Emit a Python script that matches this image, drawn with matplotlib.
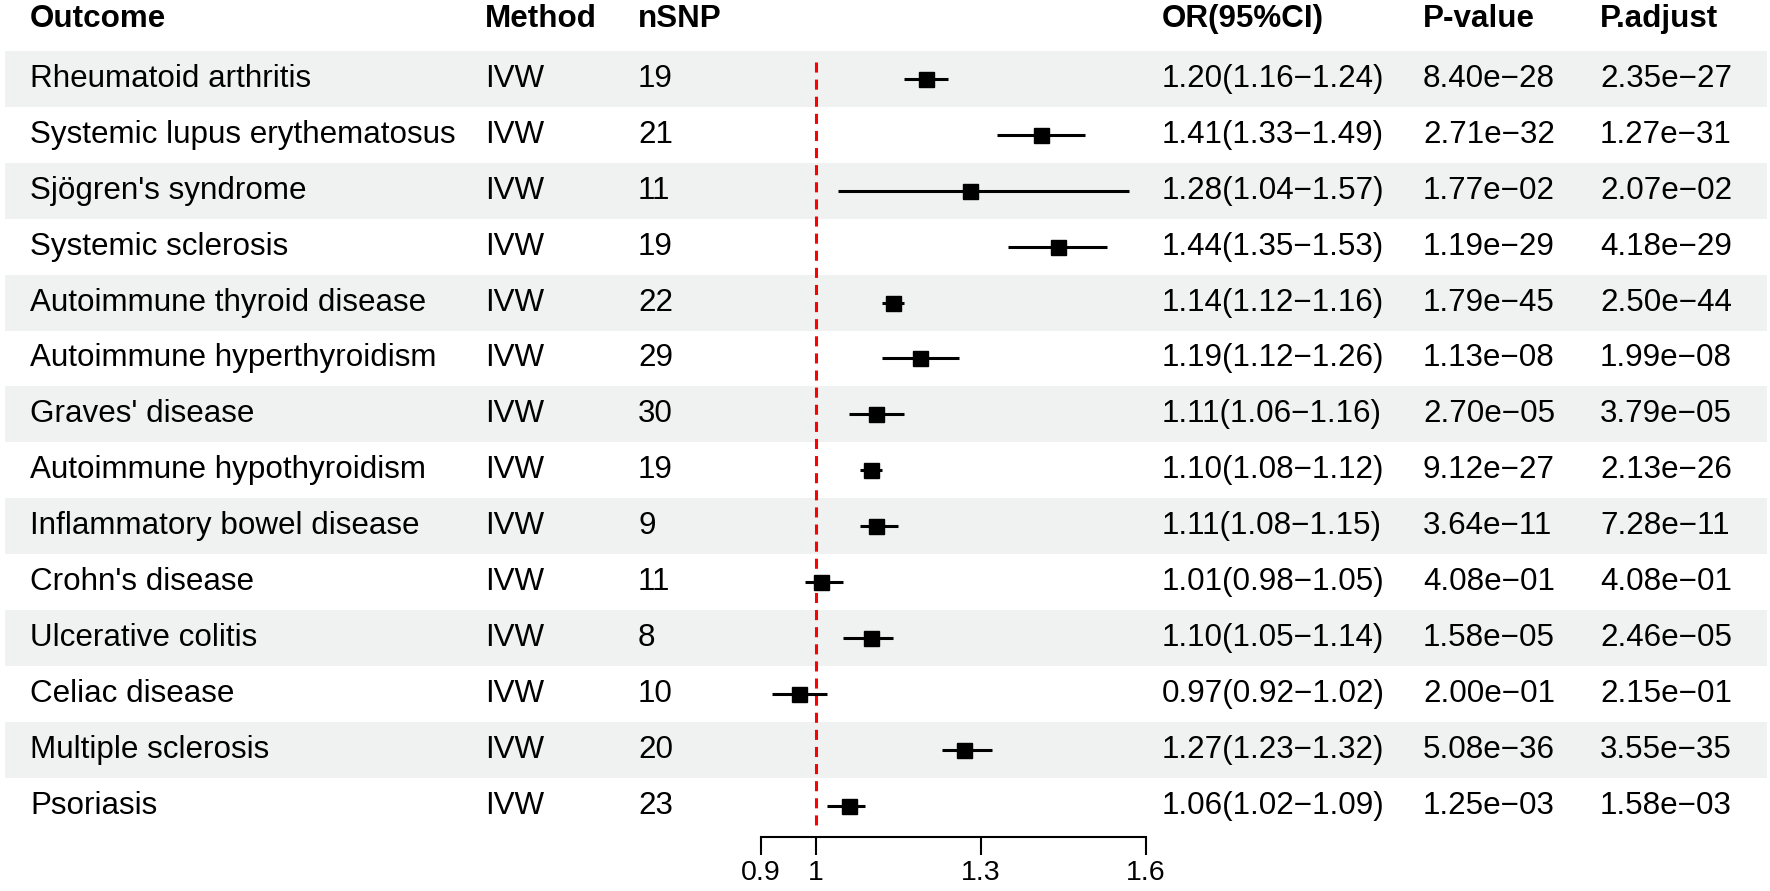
import matplotlib
matplotlib.use("Agg")
import matplotlib.pyplot as plt

plt.rcParams['font.family'] = ['Liberation Sans', 'DejaVu Sans']

outcomes = [
    "Rheumatoid arthritis", "Systemic lupus erythematosus", "Sjögren's syndrome",
    "Systemic sclerosis", "Autoimmune thyroid disease", "Autoimmune hyperthyroidism",
    "Graves' disease", "Autoimmune hypothyroidism", "Inflammatory bowel disease",
    "Crohn's disease", "Ulcerative colitis", "Celiac disease", "Multiple sclerosis",
    "Psoriasis",
]
methods = ["IVW"] * 14
nsnp = [19, 21, 11, 19, 22, 29, 30, 19, 9, 11, 8, 10, 20, 23]
or_est = [1.20, 1.41, 1.28, 1.44, 1.14, 1.19, 1.11, 1.10, 1.11, 1.01, 1.10, 0.97, 1.27, 1.06]
or_low = [1.16, 1.33, 1.04, 1.35, 1.12, 1.12, 1.06, 1.08, 1.08, 0.98, 1.05, 0.92, 1.23, 1.02]
or_high = [1.24, 1.49, 1.57, 1.53, 1.16, 1.26, 1.16, 1.12, 1.15, 1.05, 1.14, 1.02, 1.32, 1.09]
pvalue = ["8.40e−28", "2.71e−32", "1.77e−02", "1.19e−29", "1.79e−45", "1.13e−08",
          "2.70e−05", "9.12e−27", "3.64e−11", "4.08e−01", "1.58e−05", "2.00e−01",
          "5.08e−36", "1.25e−03"]
padjust = ["2.35e−27", "1.27e−31", "2.07e−02", "4.18e−29", "2.50e−44", "1.99e−08",
           "3.79e−05", "2.13e−26", "7.28e−11", "4.08e−01", "2.46e−05", "2.15e−01",
           "3.55e−35", "1.58e−03"]
headers = ["Outcome", "Method", "nSNP", "OR(95%CI)", "P-value", "P.adjust"]
xticks = [0.9, 1, 1.3, 1.6]
xtick_labels = ["0.9", "1", "1.3", "1.6"]

W, H = 1770, 891
n = len(outcomes)
fig = plt.figure(figsize=(W / 100, H / 100), dpi=100)

# vertical layout in pixels
row0_px, row_h = 79, 55.9
axis_px = 837
top_px = row0_px - row_h / 2
ylim = ((axis_px - row0_px) / row_h, -0.5)
bottom = (H - axis_px) / H
height = (axis_px - top_px) / H

ax_bg = fig.add_axes([0, bottom, 1, height])
ax_bg.set_xlim(0, W)
ax_bg.set_ylim(*ylim)
ax_bg.axis("off")

# forest panel: 1.0 -> 815.7px, 1.6 -> 1145.7px
x1_px, x16_px = 815.7, 1145.7
scale = (x16_px - x1_px) / 0.6
left_px = x1_px - 0.1 * scale
ax = fig.add_axes([left_px / W, bottom, (x16_px - left_px) / W, height])
ax.set_xlim(0.9, 1.6)
ax.set_ylim(*ylim)
ax.set_facecolor("none")

fs = 22.6
col_x = [30, 485, 638, 1162, 1423, 1600]
header_y = (19.5 - row0_px) / row_h
for x, h in zip(col_x, headers):
    ax_bg.text(x, header_y, h, fontsize=fs, fontweight="bold", va="center", ha="left")

for i in range(n):
    if i % 2 == 0:
        ax_bg.axhspan(i - 0.5, i + 0.5, xmin=5 / W, xmax=1767 / W, color="#eff2f1", lw=0)
    ci = f"{or_est[i]:.2f}({or_low[i]:.2f}−{or_high[i]:.2f})"
    row = [outcomes[i], methods[i], str(nsnp[i]), ci, pvalue[i], padjust[i]]
    for x, t in zip(col_x, row):
        ax_bg.text(x, i, t, fontsize=fs, va="center", ha="left")

ax.plot([1, 1], [-0.3, (828 - row0_px) / row_h], color="red", lw=2.2,
        dashes=(3.3, 2.3), zorder=1)
ax.hlines(range(n), or_low, or_high, color="black", lw=2.2, zorder=2)
ax.plot(or_est, range(n), "s", color="black", ms=10.8, zorder=3, clip_on=False)

for s in ["top", "left", "right"]:
    ax.spines[s].set_visible(False)
ax.spines["bottom"].set_linewidth(1.5)
ax.spines["bottom"].set_bounds(0.9, 1.6)
ax.set_xticks(xticks)
ax.set_xticklabels(xtick_labels, fontsize=20.5)
ax.tick_params(axis="x", direction="out", length=13, width=1.5, pad=3.5)
ax.set_yticks([])

fig.savefig("out.png", dpi=100)
